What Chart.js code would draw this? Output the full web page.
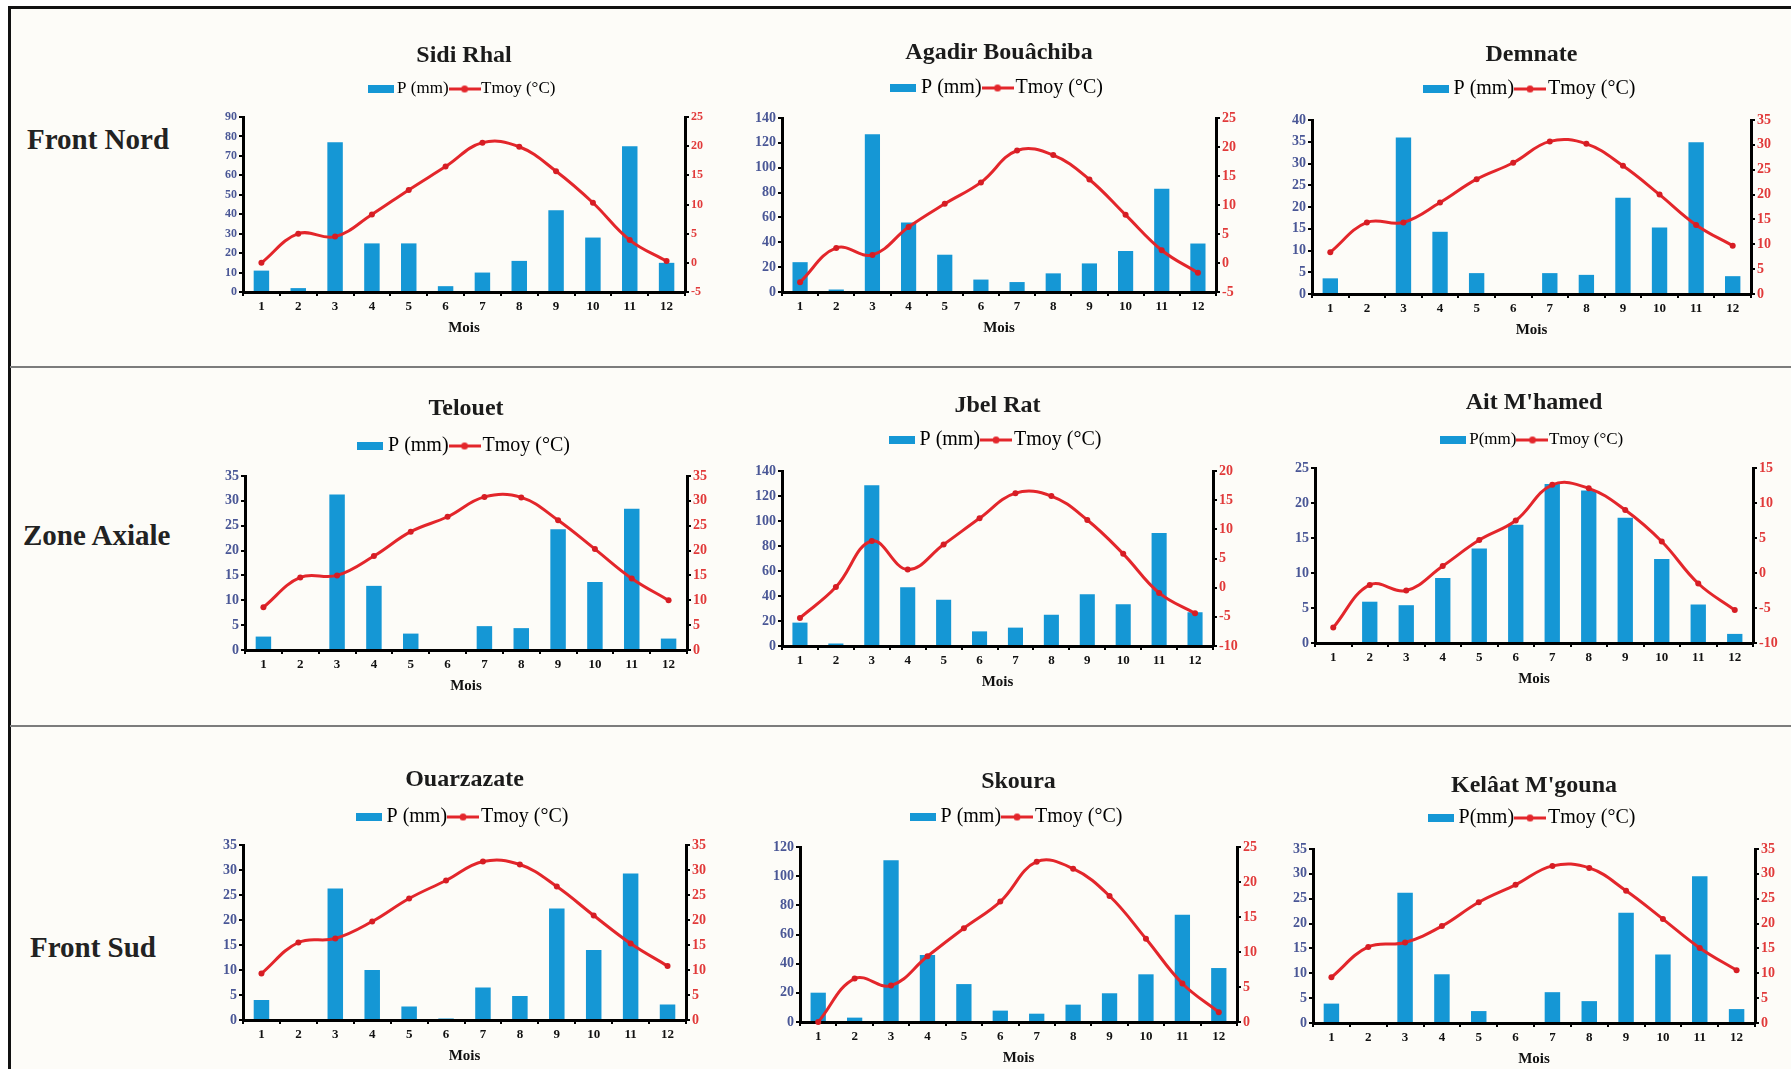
<!DOCTYPE html>
<html>
<head>
<meta charset="utf-8">
<script src="https://cdn.jsdelivr.net/npm/chart.js@4.4.1/dist/chart.umd.min.js"></script>
<style>
html, body { margin: 0; padding: 0; background: #fff; }
#page { position: relative; width: 1791px; height: 1069px; overflow: hidden; background: #fff; }
#frame { position: absolute; left: 8px; top: 6px; right: -10px; bottom: -10px;
         border-left: 3px solid #111; border-top: 3px solid #111; background: #fdfcf8; }
.sep { position: absolute; left: 10px; right: 0; height: 2px; background: #7c7c7c; }
.rowname { position: absolute; font-family: "Liberation Serif", serif; font-weight: bold;
           font-size: 29px; color: #222; line-height: 1; transform: translateY(-50%); white-space: nowrap; }
canvas { position: absolute; }
</style>
</head>
<body>
<div id="page">
  <div id="frame"></div>
  <div class="sep" style="top:366px"></div>
  <div class="sep" style="top:725px"></div>
</div>
<script>
// months / stations
const months = ['1', '2', '3', '4', '5', '6', '7', '8', '9', '10', '11', '12'];
const stations = ['Sidi Rhal', 'Agadir Bouâchiba', 'Demnate', 'Telouet', 'Jbel Rat', "Ait M'hamed",
                  'Ouarzazate', 'Skoura', "Kelâat M'gouna"];
const rowNames = ['Front Nord', 'Zone Axiale', 'Front Sud'];
const pLabels = ['P (mm)', 'P (mm)', 'P (mm)', 'P (mm)', 'P (mm)', 'P(mm)', 'P (mm)', 'P (mm)', 'P(mm)'];
const tLabel = 'Tmoy (°C)';

// precipitation P (mm)
const pSidiRhal   = [11, 2, 77, 25, 25, 3, 10, 16, 42, 28, 75, 15];
const pAgadir     = [24, 2, 127, 56, 30, 10, 8, 15, 23, 33, 83, 39];
const pDemnate    = [3.6, 0, 36, 14.3, 4.8, 0, 4.8, 4.4, 22.1, 15.3, 34.9, 4.1];
const pTelouet    = [2.7, 0, 31.3, 12.9, 3.3, 0, 4.8, 4.4, 24.3, 13.7, 28.4, 2.3];
const pJbelRat    = [18.7, 2, 128.7, 47, 37, 11.7, 14.7, 25, 41.4, 33.4, 90.5, 27];
const pAitMhamed  = [0, 5.9, 5.4, 9.3, 13.5, 16.9, 22.7, 21.8, 17.9, 12, 5.5, 1.3];
const pOuarzazate = [4, 0, 26.3, 10, 2.7, 0.3, 6.5, 4.8, 22.3, 14, 29.3, 3.1];
const pSkoura     = [20.1, 3, 110.9, 46, 26, 7.8, 5.7, 11.9, 19.7, 32.7, 73.6, 37];
const pKelaat     = [3.9, 0, 26.2, 9.8, 2.4, 0.2, 6.2, 4.4, 22.2, 13.8, 29.5, 2.8];

// mean temperature Tmoy (°C)
const tSidiRhal   = [0, 5, 4.5, 8.3, 12.5, 16.5, 20.6, 19.9, 15.7, 10.3, 3.9, 0.3];
const tAgadir     = [-3.3, 2.6, 1.4, 6.2, 10.2, 13.9, 19.4, 18.6, 14.4, 8.3, 2.2, -1.7];
const tDemnate    = [8.4, 14.4, 14.4, 18.4, 23.1, 26.4, 30.7, 30.2, 25.8, 20, 13.9, 9.7];
const tTelouet    = [8.6, 14.6, 15, 18.9, 23.8, 26.8, 30.8, 30.7, 26.1, 20.3, 14.4, 10];
const tJbelRat    = [-5.2, 0.1, 8, 3.1, 7.4, 11.9, 16.2, 15.7, 11.6, 5.8, -0.9, -4.4];
const tAitMhamed  = [-7.8, -1.7, -2.5, 1, 4.7, 7.5, 12.6, 12.1, 9, 4.5, -1.5, -5.3];
const tOuarzazate = [9.3, 15.5, 16.3, 19.7, 24.3, 27.9, 31.7, 31.1, 26.7, 20.9, 15.3, 10.8];
const tSkoura     = [0, 6.2, 5.2, 9.4, 13.4, 17.2, 22.9, 21.9, 18, 11.9, 5.5, 1.4];
const tKelaat     = [9.2, 15.3, 16.2, 19.5, 24.3, 27.8, 31.6, 31.2, 26.6, 20.9, 15.1, 10.6];

// axis ranges (tick labels)
const pMax  = [90, 140, 40, 35, 140, 25, 35, 120, 35];
const pStep = [10, 20, 5, 5, 20, 5, 5, 20, 5];
const tMin  = [-5, -5, 0, 0, -10, -10, 0, 0, 0];
const tMax  = [25, 25, 35, 35, 20, 15, 35, 25, 35];

const pSeries = [pSidiRhal, pAgadir, pDemnate, pTelouet, pJbelRat, pAitMhamed, pOuarzazate, pSkoura, pKelaat];
const tSeries = [tSidiRhal, tAgadir, tDemnate, tTelouet, tJbelRat, tAitMhamed, tOuarzazate, tSkoura, tKelaat];

// layout: plot area [left, right, top, bottom] of every panel on the page
const areas = [
  [243, 685, 117, 292], [782, 1216, 118, 292], [1312, 1751, 120, 294],
  [245, 687, 476, 650], [782, 1213, 471, 646], [1315, 1753, 468, 643],
  [243, 686, 845, 1020], [800, 1237, 847, 1022], [1313, 1755, 849, 1023]
];
const titleOff  = [62, 66, 66, 68, 66, 66, 66, 66, 64];
const legendOff = [28, 30, 31, 30, 31, 28, 28, 30, 31];
const legendSize = [17, 20, 20, 20, 20, 17, 20, 20, 20];
const tickSize = [12, 14, 14, 14, 14, 14, 14, 14, 14];
const rowPos = [[27, 139], [23, 535], [30, 947]];

const BLUE = '#1597d5';
const RED = '#e3262b';
const AXIS_W = 45;
const XAXIS_H = 45;
const LEG_PAD = 8;

Chart.defaults.font.family = '"Liberation Serif", "Times New Roman", serif';
Chart.defaults.color = '#222';

const page = document.getElementById('page');

rowNames.forEach((name, r) => {
  const d = document.createElement('div');
  d.className = 'rowname';
  d.textContent = name;
  d.style.left = rowPos[r][0] + 'px';
  d.style.top = rowPos[r][1] + 'px';
  page.appendChild(d);
});

// little legend icons (bar swatch, line with marker)
function barIcon() {
  const c = document.createElement('canvas');
  c.width = 26; c.height = 8;
  const x = c.getContext('2d');
  x.fillStyle = BLUE;
  x.fillRect(0, 0, 26, 8);
  return c;
}
function lineIcon() {
  const c = document.createElement('canvas');
  c.width = 32; c.height = 9;
  const x = c.getContext('2d');
  x.strokeStyle = RED; x.lineWidth = 3;
  x.beginPath(); x.moveTo(0, 4.5); x.lineTo(32, 4.5); x.stroke();
  x.fillStyle = RED;
  x.beginPath(); x.arc(16, 4.5, 3.5, 0, Math.PI * 2); x.fill();
  return c;
}
const BAR_ICON = barIcon();
const LINE_ICON = lineIcon();

// pushes the plot area away from the legend
const legendGap = {
  id: 'legendGap',
  beforeInit(chart, args, opts) {
    if (!chart.legend) return;
    const fit = chart.legend.fit;
    chart.legend.fit = function () {
      fit.call(this);
      this.height += opts.gap;
    };
  }
};

function makeChart(i) {
  const [L, R, T, B] = areas[i];
  const fs = legendSize[i];
  const gap = legendOff[i] - fs / 2 - 10;
  const legendH = fs + LEG_PAD + 10 + gap;
  const top = Math.round(T - titleOff[i] - 18.4);
  const titlePadBottom = (T - top) - 4 - 28.8 - legendH;

  const canvas = document.createElement('canvas');
  canvas.width = R - L + 2 * AXIS_W;
  canvas.height = B - top + XAXIS_H;
  canvas.style.left = (L - AXIS_W) + 'px';
  canvas.style.top = top + 'px';
  page.appendChild(canvas);

  const yTicks = { font: { size: tickSize[i], weight: 'bold' }, padding: 2 };
  const yGrid = { drawOnChartArea: false, drawTicks: true, tickLength: 4, color: '#000', lineWidth: 2 };
  const yBorder = { display: true, color: '#000', width: 3 };

  new Chart(canvas, {
    type: 'bar',
    data: {
      labels: months,
      datasets: [
        {
          type: 'bar', label: pLabels[i], data: pSeries[i], yAxisID: 'y',
          backgroundColor: BLUE, barPercentage: 0.42, categoryPercentage: 1, order: 1
        },
        {
          type: 'line', label: tLabel, data: tSeries[i], yAxisID: 'y1',
          borderColor: RED, backgroundColor: RED, borderWidth: 3, tension: 0.4,
          pointRadius: 3, pointBackgroundColor: '#d61d24', pointBorderWidth: 0,
          order: 0, clip: false
        }
      ]
    },
    options: {
      responsive: false,
      animation: false,
      layout: { padding: 0 },
      plugins: {
        title: {
          display: true, text: stations[i], color: '#1b1b1b',
          font: { size: 24, weight: 'bold' },
          padding: { top: 4, bottom: titlePadBottom }
        },
        legend: {
          display: true,
          labels: {
            usePointStyle: true, pointStyleWidth: 16, boxHeight: 8, padding: LEG_PAD,
            color: '#262626', font: { size: fs },
            generateLabels: () => [
              { text: pLabels[i], pointStyle: BAR_ICON, fillStyle: BLUE, strokeStyle: BLUE, lineWidth: 0, hidden: false, datasetIndex: 0 },
              { text: tLabel, pointStyle: LINE_ICON, fillStyle: RED, strokeStyle: RED, lineWidth: 0, hidden: false, datasetIndex: 1 }
            ]
          }
        },
        legendGap: { gap: gap },
        tooltip: { enabled: false }
      },
      scales: {
        x: {
          offset: true,
          grid: { display: true, offset: true, drawOnChartArea: false, drawTicks: true, tickLength: 4, color: '#000', lineWidth: 2 },
          border: { display: true, color: '#000', width: 3 },
          ticks: { color: '#111', font: { size: 13, weight: 'bold' }, padding: 3, maxRotation: 0, autoSkip: false },
          title: { display: true, text: 'Mois', color: '#111', font: { size: 15, weight: 'bold' }, padding: 0 },
          afterFit: s => { s.height = XAXIS_H; }
        },
        y: {
          position: 'left', min: 0, max: pMax[i],
          ticks: Object.assign({ stepSize: pStep[i], color: '#4a5796' }, yTicks),
          grid: yGrid, border: yBorder,
          afterFit: s => { s.width = AXIS_W; }
        },
        y1: {
          position: 'right', min: tMin[i], max: tMax[i],
          ticks: Object.assign({ stepSize: 5, color: '#e13a3a' }, yTicks),
          grid: yGrid, border: yBorder,
          afterFit: s => { s.width = AXIS_W; }
        }
      }
    },
    plugins: [legendGap]
  });
}

for (let i = 0; i < stations.length; i++) makeChart(i);
</script>
</body>
</html>
